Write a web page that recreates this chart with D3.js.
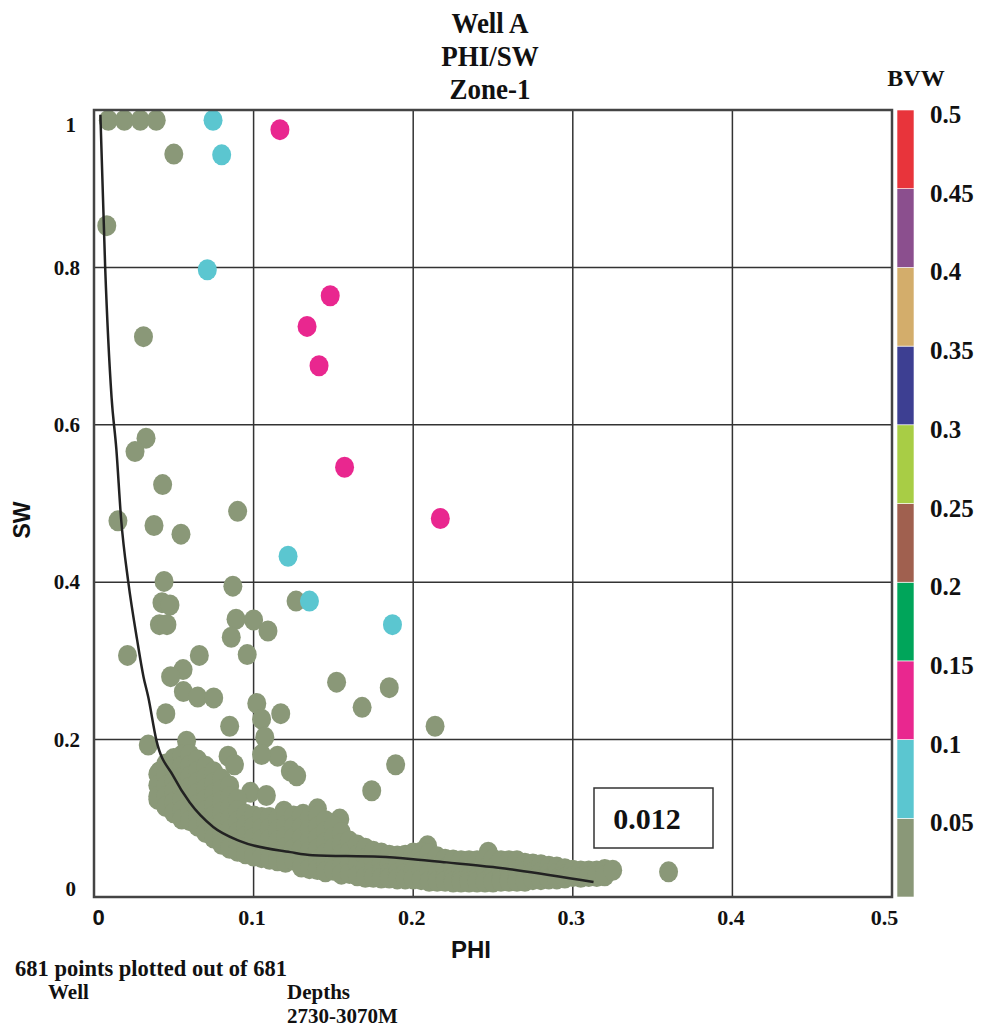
<!DOCTYPE html>
<html>
<head>
<meta charset="utf-8">
<script src="https://cdn.jsdelivr.net/npm/d3@7"></script>
<style>
  body { margin: 0; background: #fff; }
  svg text { font-family: "Liberation Serif", "Times New Roman", serif; font-weight: bold; fill: #111; }
  .sans { font-family: "Liberation Sans", Arial, sans-serif !important; }
</style>
</head>
<body>
<svg id="chart" width="985" height="1029"></svg>
<script>
// titles / labels
const titleLines = ["Well A", "PHI/SW", "Zone-1"];
const xTicks = [0, 0.1, 0.2, 0.3, 0.4, 0.5];
const yTicks = [0, 0.2, 0.4, 0.6, 0.8, 1];
const bvwBreaks = [0, 0.05, 0.1, 0.15, 0.2, 0.25, 0.3, 0.35, 0.4, 0.45, 0.5];
const bvwColors = ["#8a9878", "#5bc6d0", "#e9278f", "#00a55a", "#a0604f",
                   "#a8cd45", "#3d3f92", "#d3ad6b", "#8b4f8e", "#e8343b"];
const footerLines = ["681 points plotted out of 681", "Well", "Depths", "2730-3070M"];
const cutoffLabel = "0.012";

// points, [PHI, SW], grouped by BVW class
const magentaPoints = [[0.1165, 0.975], [0.148, 0.764], [0.1335, 0.725], [0.141, 0.675],
                       [0.157, 0.546], [0.217, 0.481]];
const cyanPoints = [[0.0746, 0.987], [0.080, 0.943], [0.071, 0.797], [0.1216, 0.433],
                    [0.135, 0.376], [0.187, 0.346]];
const greyPoints = [
  [0.009, 0.987], [0.019, 0.987], [0.029, 0.987], [0.039, 0.987], [0.050, 0.944],
  [0.008, 0.853], [0.031, 0.712], [0.0326, 0.583], [0.0257, 0.566], [0.043, 0.524],
  [0.090, 0.490], [0.015, 0.478], [0.0376, 0.472], [0.0545, 0.461], [0.0439, 0.401],
  [0.087, 0.395], [0.1266, 0.376], [0.0426, 0.374], [0.0476, 0.371], [0.041, 0.346],
  [0.0457, 0.346], [0.089, 0.353], [0.100, 0.352], [0.109, 0.338], [0.086, 0.330],
  [0.096, 0.308], [0.021, 0.307], [0.066, 0.307], [0.0558, 0.289], [0.048, 0.280],
  [0.056, 0.261], [0.065, 0.254], [0.075, 0.253], [0.152, 0.273], [0.185, 0.266],
  [0.102, 0.246], [0.168, 0.241], [0.045, 0.233], [0.117, 0.233], [0.105, 0.226],
  [0.085, 0.217], [0.2137, 0.217], [0.107, 0.203], [0.034, 0.193], [0.058, 0.198],
  [0.115, 0.179], [0.105, 0.181], [0.084, 0.179], [0.088, 0.168], [0.189, 0.168],
  [0.123, 0.160], [0.127, 0.154], [0.041, 0.159], [0.098, 0.133], [0.108, 0.129],
  [0.174, 0.135], [0.154, 0.099], [0.140, 0.112], [0.040, 0.124], [0.360, 0.032],
  [0.209, 0.065], [0.247, 0.057], [0.119, 0.109], [0.131, 0.105]
];
// dense band of grey points, one column per PHI value: [PHI, [SW...]]
const bandColumns = [
  [0.040, [0.156, 0.142, 0.128]],
  [0.045, [0.169, 0.155, 0.141, 0.128, 0.115]],
  [0.050, [0.176, 0.162, 0.148, 0.134, 0.120, 0.107]],
  [0.055, [0.180, 0.166, 0.152, 0.138, 0.124, 0.110, 0.099]],
  [0.060, [0.181, 0.167, 0.153, 0.139, 0.125, 0.111, 0.097]],
  [0.065, [0.174, 0.160, 0.146, 0.132, 0.118, 0.104, 0.090]],
  [0.070, [0.166, 0.152, 0.138, 0.124, 0.110, 0.096, 0.082]],
  [0.075, [0.159, 0.145, 0.131, 0.117, 0.103, 0.089, 0.075]],
  [0.080, [0.150, 0.136, 0.122, 0.108, 0.094, 0.080, 0.067]],
  [0.085, [0.141, 0.127, 0.113, 0.099, 0.085, 0.071, 0.062]],
  [0.090, [0.124, 0.110, 0.096, 0.082, 0.068, 0.058]],
  [0.095, [0.105, 0.091, 0.077, 0.063, 0.055]],
  [0.100, [0.103, 0.089, 0.075, 0.061, 0.052]],
  [0.105, [0.101, 0.087, 0.073, 0.059, 0.050]],
  [0.110, [0.101, 0.087, 0.073, 0.059, 0.048]],
  [0.115, [0.099, 0.085, 0.071, 0.057, 0.046]],
  [0.120, [0.105, 0.091, 0.077, 0.063, 0.050, 0.044]],
  [0.125, [0.103, 0.089, 0.075, 0.061, 0.047]],
  [0.130, [0.103, 0.089, 0.075, 0.061, 0.048, 0.038]],
  [0.135, [0.100, 0.086, 0.072, 0.058, 0.044, 0.036]],
  [0.140, [0.103, 0.089, 0.075, 0.061, 0.047, 0.035]],
  [0.145, [0.097, 0.083, 0.069, 0.055, 0.042, 0.032]],
  [0.150, [0.090, 0.076, 0.062, 0.048, 0.034]],
  [0.155, [0.082, 0.068, 0.054, 0.040, 0.029]],
  [0.160, [0.071, 0.057, 0.043, 0.030]],
  [0.165, [0.066, 0.053, 0.040, 0.027]],
  [0.170, [0.062, 0.049, 0.037, 0.025]],
  [0.175, [0.058, 0.045, 0.033, 0.025]],
  [0.180, [0.056, 0.043, 0.031, 0.024]],
  [0.185, [0.053, 0.041, 0.030, 0.024]],
  [0.190, [0.052, 0.040, 0.030, 0.023]],
  [0.195, [0.053, 0.041, 0.030, 0.023]],
  [0.200, [0.056, 0.044, 0.033, 0.023]],
  [0.205, [0.057, 0.045, 0.033, 0.022]],
  [0.210, [0.055, 0.043, 0.031, 0.020]],
  [0.215, [0.051, 0.039, 0.029, 0.020]],
  [0.220, [0.048, 0.036, 0.026, 0.020]],
  [0.225, [0.047, 0.035, 0.025, 0.019]],
  [0.230, [0.046, 0.034, 0.024, 0.019]],
  [0.235, [0.046, 0.034, 0.024, 0.019]],
  [0.240, [0.046, 0.034, 0.024, 0.019]],
  [0.245, [0.048, 0.036, 0.026, 0.019]],
  [0.250, [0.048, 0.036, 0.026, 0.019]],
  [0.255, [0.046, 0.034, 0.024, 0.020]],
  [0.260, [0.046, 0.034, 0.024, 0.020]],
  [0.265, [0.046, 0.034, 0.024, 0.020]],
  [0.270, [0.043, 0.032, 0.020]],
  [0.275, [0.042, 0.031, 0.022]],
  [0.280, [0.041, 0.031, 0.022]],
  [0.285, [0.039, 0.030, 0.023]],
  [0.290, [0.038, 0.030, 0.023]],
  [0.295, [0.036, 0.028, 0.024]],
  [0.300, [0.034, 0.026]],
  [0.305, [0.033, 0.025]],
  [0.310, [0.033, 0.026]],
  [0.315, [0.033, 0.026]],
  [0.320, [0.035, 0.027]],
  [0.325, [0.034]]
];
// fitted trend line
const trendPoints = [
  [0.004, 0.994], [0.007, 0.80], [0.011, 0.635], [0.014, 0.569], [0.017, 0.48],
  [0.0215, 0.40], [0.027, 0.327], [0.031, 0.280], [0.034, 0.254], [0.039, 0.200],
  [0.0496, 0.154], [0.060, 0.120], [0.0747, 0.089], [0.0915, 0.071], [0.123, 0.057],
  [0.137, 0.053], [0.179, 0.051], [0.200, 0.048], [0.221, 0.044], [0.25, 0.038],
  [0.265, 0.034], [0.313, 0.019]
];

const svg = d3.select("#chart");
const plotLeft = 94, plotRight = 892, plotTop = 110, plotBottom = 897;
const x = d3.scaleLinear().domain([0, 0.5]).range([plotLeft, plotRight]);
const y = d3.scaleLinear().domain([0, 1]).range([plotBottom, plotTop]);
const color = d3.scaleThreshold().domain(bvwBreaks.slice(1, -1)).range(bvwColors);

// title (narrow bold serif, like the original)
svg.selectAll(".title").data(titleLines).enter().append("text")
  .attr("transform", (d, i) => `translate(490,${33 + i * 33}) scale(0.9,1)`)
  .attr("text-anchor", "middle").attr("font-size", 30).text(d => d);

// grid
const grid = svg.append("g");
grid.selectAll(".vx").data(xTicks.slice(1, -1)).enter().append("line")
  .attr("x1", d => x(d)).attr("x2", d => x(d)).attr("y1", plotTop).attr("y2", plotBottom)
  .attr("stroke", "#333").attr("stroke-width", 1.5);
grid.selectAll(".hy").data(yTicks.slice(1, -1)).enter().append("line")
  .attr("y1", d => y(d)).attr("y2", d => y(d)).attr("x1", plotLeft).attr("x2", plotRight)
  .attr("stroke", "#333").attr("stroke-width", 1.5);

// points
const allGrey = greyPoints.concat(bandColumns.flatMap(([p, sws]) => sws.map(s => [p, s])));
const groups = [
  { pts: allGrey, bvw: 0.025 },
  { pts: cyanPoints, bvw: 0.075 },
  { pts: magentaPoints, bvw: 0.125 }
];
groups.forEach(g => {
  svg.append("g").selectAll("ellipse").data(g.pts).enter().append("ellipse")
    .attr("cx", d => x(d[0])).attr("cy", d => y(d[1]))
    .attr("rx", 9.5).attr("ry", 10.5)
    .attr("fill", color(g.bvw));
});

// trend line
const line = d3.line().x(d => x(d[0])).y(d => y(d[1])).curve(d3.curveMonotoneX);
svg.append("path").datum(trendPoints).attr("d", line)
  .attr("fill", "none").attr("stroke", "#222").attr("stroke-width", 2.5);

// frame
svg.append("rect").attr("x", plotLeft).attr("y", plotTop)
  .attr("width", plotRight - plotLeft).attr("height", plotBottom - plotTop)
  .attr("fill", "none").attr("stroke", "#444").attr("stroke-width", 2.5);

// x axis labels
const xAxis = d3.axisBottom(x).tickValues(xTicks).tickSize(0).tickPadding(12)
  .tickFormat(d => d === 0 ? "0" : d3.format(".1f")(d));
const gx = svg.append("g").attr("transform", `translate(0,${plotBottom})`).call(xAxis);
gx.select(".domain").remove();
gx.attr("font-family", null).attr("font-size", null);
gx.selectAll("text").attr("font-size", 22).attr("fill", "#111")
  .attr("dx", d => d === 0 ? 4 : (d === 0.5 ? -8 : -2))
  .classed("sans", d => d === 0);

// y axis labels
const yAxis = d3.axisLeft(y).tickValues(yTicks).tickSize(0).tickPadding(14)
  .tickFormat(d => d === 0 || d === 1 ? String(d) : d3.format(".1f")(d));
const gy = svg.append("g").attr("transform", `translate(${plotLeft},0)`).call(yAxis);
gy.select(".domain").remove();
gy.attr("font-family", null).attr("font-size", null);
gy.selectAll("text").attr("font-size", 21).attr("fill", "#111")
  .attr("dy", d => d === 1 ? "1.0em" : (d === 0 ? "-0.05em" : "0.32em"))
  .attr("dx", d => d === 0 || d === 1 ? -4 : 0);

// axis titles
svg.append("text").attr("class", "sans").attr("x", 471).attr("y", 958)
  .attr("text-anchor", "middle").attr("font-size", 24).text("PHI");
svg.append("text").attr("class", "sans").attr("font-size", 23)
  .attr("text-anchor", "middle")
  .attr("transform", "translate(30,520) rotate(-90)").text("SW");

// colour bar
const cb = d3.scaleLinear().domain([0, 0.5]).range([plotBottom, plotTop]);
svg.append("g").selectAll("rect").data(bvwColors).enter().append("rect")
  .attr("x", 897).attr("width", 17)
  .attr("y", (d, i) => cb(bvwBreaks[i + 1]))
  .attr("height", (d, i) => cb(bvwBreaks[i]) - cb(bvwBreaks[i + 1]))
  .attr("fill", d => d).attr("stroke", "#fff").attr("stroke-width", 0.6);
svg.append("g").selectAll("text").data(bvwBreaks.slice(1)).enter().append("text")
  .attr("x", 930).attr("y", d => cb(d) + 13)
  .attr("font-size", 25).text(d => String(d));
svg.append("text").attr("x", 916).attr("y", 86).attr("text-anchor", "middle")
  .attr("font-size", 24).text("BVW");

// cutoff box
svg.append("rect").attr("x", 594).attr("y", 788).attr("width", 119).attr("height", 60)
  .attr("fill", "#fff").attr("stroke", "#333").attr("stroke-width", 1.5);
svg.append("text").attr("x", 647).attr("y", 829).attr("text-anchor", "middle")
  .attr("font-size", 30).text(cutoffLabel);

// footer
svg.append("text").attr("x", 15).attr("y", 976).attr("font-size", 22.5).text(footerLines[0]);
svg.append("text").attr("x", 48).attr("y", 999).attr("font-size", 21).text(footerLines[1]);
svg.append("text").attr("x", 287).attr("y", 999).attr("font-size", 21).text(footerLines[2]);
svg.append("text").attr("x", 287).attr("y", 1023).attr("font-size", 21).text(footerLines[3]);
</script>
</body>
</html>
